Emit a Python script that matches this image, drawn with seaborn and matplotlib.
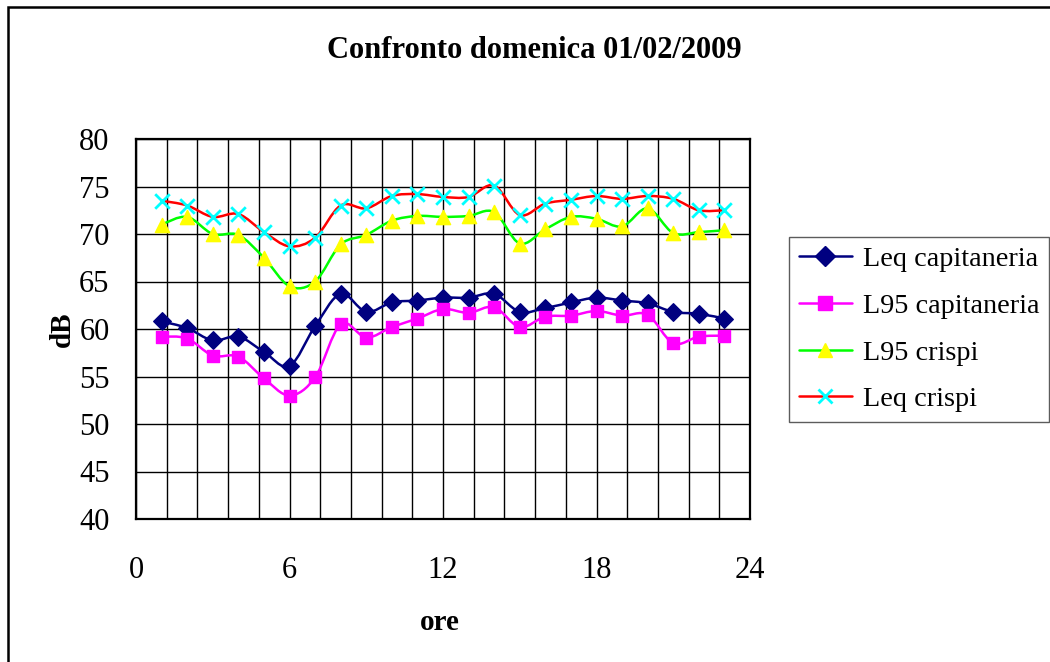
import numpy as np
import matplotlib
matplotlib.use("Agg")
import matplotlib.pyplot as plt
from matplotlib.path import Path
from matplotlib.patches import PathPatch, Rectangle
from matplotlib.lines import Line2D
import seaborn as sns

# Hourly noise levels (dB) for Sunday 01/02/2009
ore = [1, 2, 3, 4, 5, 6, 7, 8, 9, 10, 11, 12, 13, 14, 15, 16, 17, 18, 19, 20, 21, 22, 23]
leq_capitaneria = [60.8, 60.1, 58.8, 59.2, 57.6, 56.1, 60.3, 63.7, 61.8, 62.8, 63.0, 63.3,
                   63.3, 63.7, 61.8, 62.2, 62.8, 63.3, 63.0, 62.7, 61.8, 61.6, 61.1]
l95_capitaneria = [59.2, 59.0, 57.2, 57.1, 54.8, 53.0, 54.9, 60.5, 59.1, 60.2, 61.1, 62.1,
                   61.7, 62.3, 60.2, 61.3, 61.4, 61.9, 61.4, 61.5, 58.5, 59.2, 59.3]
l95_crispi = [71.0, 71.8, 70.0, 69.9, 67.5, 64.5, 65.0, 68.9, 69.9, 71.4, 71.9, 71.8,
              71.9, 72.3, 69.0, 70.5, 71.8, 71.6, 70.8, 72.7, 70.1, 70.2, 70.4]
leq_crispi = [73.5, 73.0, 71.8, 72.1, 70.2, 68.7, 69.6, 73.0, 72.7, 74.0, 74.2, 73.9,
              73.9, 75.1, 72.0, 73.2, 73.6, 74.0, 73.7, 74.0, 73.7, 72.5, 72.5]

series_names = ["Leq capitaneria", "L95 capitaneria", "L95 crispi", "Leq crispi"]
x_ticks = [0, 6, 12, 18, 24]
y_ticks = [40, 45, 50, 55, 60, 65, 70, 75, 80]

sns.set_theme(style="white")
plt.rcParams["font.family"] = ["Liberation Serif", "DejaVu Serif"]

# (values, line colour, marker, marker face, marker edge, marker size)
styles = [
    (leq_capitaneria, "#000080", "D", "#000080", "#000080", 80),
    (l95_capitaneria, "#FF00FF", "s", "#FF00FF", "#FF00FF", 85),
    (l95_crispi, "#00FF00", "^", "#FFFF00", "#FFFF00", 105),
    (leq_crispi, "#FF0000", "x", "#00FFFF", "#00FFFF", 110),
]


def smooth_path(xs, ys):
    """Bezier path through the points with Catmull-Rom style tangents."""
    pts = np.column_stack([xs, ys]).astype(float)
    n = len(pts)
    verts = [pts[0]]
    codes = [Path.MOVETO]
    for i in range(n - 1):
        p0 = pts[i - 1] if i > 0 else pts[i]
        p1 = pts[i]
        p2 = pts[i + 1]
        p3 = pts[i + 2] if i + 2 < n else pts[i + 1]
        c1 = p1 + (p2 - p0) / 6.0
        c2 = p2 - (p3 - p1) / 6.0
        verts += [c1, c2, p2]
        codes += [Path.CURVE4] * 3
    return Path(verts, codes)


fig = plt.figure(figsize=(10.5, 6.62), dpi=100)
ax = fig.add_axes([136 / 1050, 1 - 519 / 662, 614 / 1050, 380 / 662])

handles = []
for (vals, lc, mk, mf, me, ms), name in zip(styles, series_names):
    ax.add_patch(PathPatch(smooth_path(ore, vals), facecolor="none",
                           edgecolor=lc, lw=1.8, zorder=3))
    if mk == "x":
        sns.scatterplot(x=ore, y=vals, marker=mk, color=mf, s=ms,
                        linewidth=2.0, ax=ax, zorder=4)
    else:
        sns.scatterplot(x=ore, y=vals, marker=mk, color=mf, edgecolor=me,
                        s=ms, linewidth=1.0, ax=ax, zorder=4)
    handles.append(Line2D([], [], color=lc, lw=1.8, marker=mk,
                          markerfacecolor=mf, markeredgecolor=me,
                          markersize=10, markeredgewidth=2.0 if mk == "x" else 1.0))

ax.set_xlim(0, 24)
ax.set_ylim(40, 80)
ax.set_xticks(x_ticks)
ax.set_xticks(np.linspace(0, 24, 21), minor=True)
ax.set_yticks(y_ticks)
ax.tick_params(axis="both", which="major", direction="out", length=10,
               width=1.0, color="black", labelsize=22, labelcolor="black")
ax.tick_params(axis="x", which="major", pad=17)
ax.tick_params(axis="y", which="major", pad=9)
ax.tick_params(axis="x", which="minor", length=0)
ax.grid(True, which="both", color="black", lw=1.0)
ax.set_axisbelow(True)
for sp in ax.spines.values():
    sp.set_visible(True)
    sp.set_color("black")
    sp.set_linewidth(1.6)

fig.text(534 / 1050, 1 - 50 / 662, "Confronto domenica 01/02/2009",
         fontsize=22, fontweight="bold", color="black", ha="center", va="center")

ax.set_xlabel("ore", fontsize=21, fontweight="bold", color="black")
ax.set_ylabel("dB", fontsize=21, fontweight="bold", color="black")
ax.xaxis.label.set_va("center")
ax.yaxis.label.set_va("center")
ax.xaxis.set_label_coords((440 - 136) / 614, (519 - 622) / 380)
ax.yaxis.set_label_coords((62 - 136) / 614, 0.5)

leg = fig.legend(handles, series_names, loc="upper left",
                 bbox_to_anchor=(789 / 1050, 1 - 237 / 662),
                 bbox_transform=fig.transFigure, fontsize=20.3, frameon=True,
                 fancybox=False, shadow=False, edgecolor="#333333",
                 handlelength=1.9, handletextpad=0.38, labelspacing=0.74,
                 borderpad=0.34, borderaxespad=0.0)
leg.get_frame().set_linewidth(1.0)
for t in leg.get_texts():
    t.set_color("black")

# outer chart frame
fig.patches.append(Rectangle((7.5 / 1050, -0.1), 1.2, 1.1 - 6.5 / 662,
                             transform=fig.transFigure, fill=False,
                             edgecolor="black", lw=1.8, clip_on=False))

fig.savefig("out.png", dpi=100, facecolor="white")
